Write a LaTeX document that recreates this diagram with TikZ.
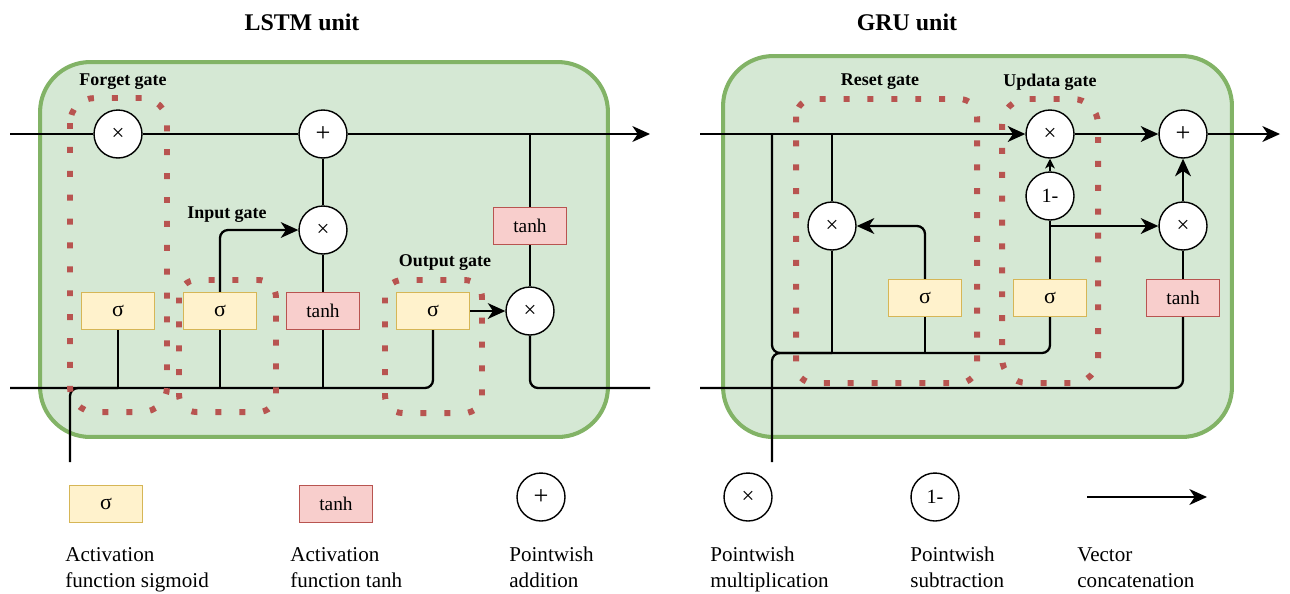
\documentclass[tikz,border=0pt]{standalone}
\usepackage{fontspec}
\setmainfont{Liberation Serif}
\usetikzlibrary{arrows.meta}
\definecolor{gfill}{HTML}{D5E8D4}
\definecolor{gline}{HTML}{82B366}
\definecolor{yfill}{HTML}{FFF2CC}
\definecolor{yline}{HTML}{D6B656}
\definecolor{rfill}{HTML}{F8CECC}
\definecolor{rline}{HTML}{B85450}
\tikzset{
  op/.style={circle,draw,fill=white,line width=0.8pt,minimum size=0.96cm,inner sep=0pt,font=\fontsize{13}{15}\selectfont},
  opplus/.style={op,font=\fontsize{15}{17}\selectfont},
  opone/.style={op,font=\fontsize{11.5}{13}\selectfont},
  sig/.style={rectangle,draw=yline,fill=yfill,line width=0.7pt,minimum width=1.46cm,minimum height=0.74cm,inner sep=0pt,font=\fontsize{12.5}{14}\selectfont},
  th/.style={rectangle,draw=rline,fill=rfill,line width=0.7pt,minimum width=1.46cm,minimum height=0.74cm,inner sep=0pt,font=\fontsize{11}{13}\selectfont},
  unitbox/.style={draw=gline,fill=gfill,line width=2.3pt,rounded corners=1cm,inner sep=0pt},
  gatebox/.style={draw=rline,line width=3.4pt,dash pattern=on 3.4pt off 10.2pt,rounded corners=0.35cm},
  wire/.style={line width=1.3pt,rounded corners=0.16cm},
  arr/.style={wire,-{Stealth[length=10pt,width=9pt,inset=3pt]}},
  sarr/.style={wire,-{Stealth[length=5.5pt,width=5.5pt,inset=1.5pt]}},
  title/.style={font=\bfseries\fontsize{13.6}{16}\selectfont},
  glabel/.style={font=\bfseries\fontsize{10.2}{12}\selectfont},
  legtext/.style={align=left,anchor=north west,font=\fontsize{12}{14.7}\selectfont,inner sep=0pt},
}
\begin{document}
\begin{tikzpicture}[x=0.02cm,y=-0.02cm]
\useasboundingbox (0,0) rectangle (1290,593);

% ---------- titles ----------
\node[title] (tl) at (302,22) {LSTM unit};
\node[title] (tg) at (907,22) {GRU unit};

% ---------- unit boxes ----------
\node[unitbox,minimum width=11.36cm,minimum height=7.5cm] (lstm) at (324,249.5) {};
\node[unitbox,minimum width=10.18cm,minimum height=7.62cm] (gru) at (977.5,246.5) {};

% ---------- LSTM nodes ----------
\node[op] (fx) at (118,134) {×};
\node[opplus] (pl) at (323,134) {+};
\node[op] (mx) at (323,230) {×};
\node[th] (tc) at (323,311) {tanh};
\node[sig] (sf) at (118,311) {σ};
\node[sig] (si) at (220,311) {σ};
\node[sig] (so) at (433,311) {σ};
\node[op] (ox) at (530,311) {×};
\node[th] (tt) at (530,226) {tanh};

\coordinate (lin) at (10,134);
\coordinate (lout) at (650,134);
\coordinate (lbin) at (10,388);
\coordinate (lbout) at (650,388);
\coordinate (lx) at (70,462);
\coordinate (tap) at (530,134);

\draw[wire] (lin) -- (fx);
\draw[wire] (fx) -- (pl);
\draw[arr] (pl) -- (lout);
\draw[wire] (lbin) -| (so.south);
\draw[wire] (lx) |- (sf.south |- lbin);
\draw[wire] (sf.south) -- (sf.south |- lbin);
\draw[wire] (si.south) -- (si.south |- lbin);
\draw[wire] (tc.south) -- (tc.south |- lbin);
\draw[arr] (si.north) |- (mx.west);
\draw[wire] (tc.north) -- (mx.south);
\draw[wire] (mx.north) -- (pl.south);
\draw[arr] (so.east) -- (ox.west);
\draw[wire] (tap) -- (tt.north);
\draw[wire] (tt.south) -- (ox.north);
\draw[wire] (ox.south) |- (lbout);

% LSTM gates
\draw[gatebox,rounded corners=0.5cm] (70,98) rectangle (167,412);
\draw[gatebox] (179,280) rectangle (276,412);
\draw[gatebox] (385,280) rectangle (482,413);
\node[glabel] (lf) at (123,82) {Forget gate};
\node[glabel] (li) at (227,215) {Input gate};
\node[glabel] (lo) at (445,263) {Output gate};

% ---------- GRU nodes ----------
\node[op] (gx) at (1050,134) {×};
\node[opplus] (gp) at (1183,134) {+};
\node[op] (gm) at (1183,226) {×};
\node[opone] (g1) at (1050,196) {1-};
\node[sig] (gs2) at (1050,298) {σ};
\node[th] (gt) at (1183,298) {tanh};
\node[sig] (gs1) at (925,298) {σ};
\node[op] (gr) at (832,226) {×};

\coordinate (gin) at (700,134);
\coordinate (gout) at (1280,134);
\coordinate (gbr) at (1050,226);
\coordinate (gbin) at (700,388);
\coordinate (gtap) at (772,134);
\coordinate (gmid) at (772,353);
\coordinate (gx0) at (772,462);

\draw[arr] (gin) -- (gx.west);
\draw[arr] (gx) -- (gp);
\draw[arr] (gp) -- (gout);
\draw[sarr] (g1) -- (gx);
\draw[wire] (gs2.north) -- (g1.south);
\draw[arr] (gbr) -- (gm.west);
\draw[arr] (gm) -- (gp);
\draw[wire] (gt.north) -- (gm.south);
\draw[wire] (gt.south) |- (gbin);
\draw[arr] (gs1.north) |- (gr.east);
\draw[wire] (gr.north) -- (gr.north |- gin);
\draw[wire] (gr.south) -- (gr.south |- gmid);
\draw[wire] (gs1.south) -- (gs1.south |- gmid);
\draw[wire] (gtap) |- (gs2.south |- gmid) -- (gs2.south);
\draw[wire] (gx0) |- (gr.south |- gmid);

% GRU gates
\draw[gatebox] (796,99) rectangle (977,383);
\draw[gatebox,rounded corners=0.5cm] (1002,99) rectangle (1098,383);
\node[glabel] (lr) at (880,82) {Reset gate};
\node[glabel] (lu) at (1050,82) {Updata gate};

% ---------- legend ----------
\node[sig] (ls) at (106,504) {σ};
\node[th] (lt) at (336,504) {tanh};
\node[opplus] (lp) at (541,497) {+};
\node[op] (lm) at (748,497) {×};
\node[opone] (l1) at (935,497) {1-};
\coordinate (la1) at (1087,497);
\coordinate (la2) at (1207,497);
\draw[arr] (la1) -- (la2);

\node[legtext] (t1) at (65,547) {Activation\\function sigmoid};
\node[legtext] (t2) at (290,547) {Activation\\function tanh};
\node[legtext] (t3) at (509,547) {Pointwish\\addition};
\node[legtext] (t4) at (710,547) {Pointwish\\multiplication};
\node[legtext] (t5) at (910,547) {Pointwish\\subtraction};
\node[legtext] (t6) at (1077,547) {Vector\\concatenation};
\end{tikzpicture}
\end{document}
